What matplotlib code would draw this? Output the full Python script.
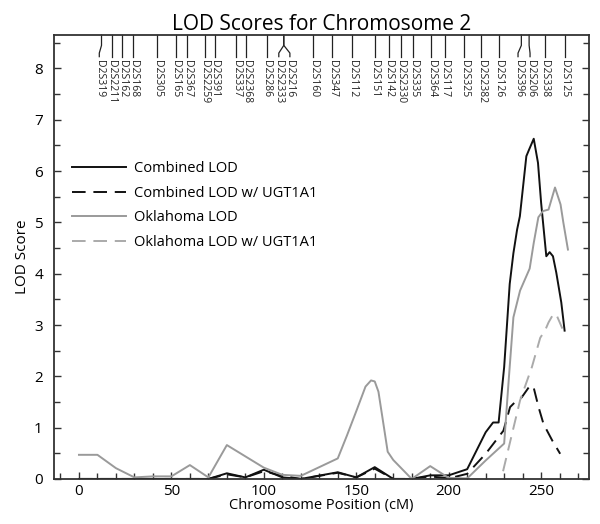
import matplotlib
matplotlib.use("Agg")
import matplotlib.pyplot as plt
from matplotlib.ticker import MultipleLocator

plt.rcParams['font.family'] = ['Open Sans', 'DejaVu Sans']

# LOD curves (position in cM, LOD score)
combined_x = [0, 70, 80, 90, 100, 110, 120, 140, 150, 160, 170, 180, 190, 200, 210,
              220, 224, 227, 230, 233, 235, 237, 238.5, 242, 243.5, 246, 248.3, 250,
              251.4, 252.8, 254.6, 256.4, 258.2, 260.9, 262.7]
combined_y = [0, 0, 0.11, 0.03, 0.18, 0.03, 0, 0.13, 0.03, 0.23, 0, 0, 0.07, 0.07, 0.19,
              0.91, 1.1, 1.1, 2.18, 3.8, 4.4, 4.86, 5.12, 6.29, 6.42, 6.63, 6.16, 5.38,
              4.86, 4.34, 4.42, 4.34, 4.02, 3.44, 2.89]

combined_ugt_x = [0, 70, 80, 90, 100, 110, 120, 140, 150, 160, 170, 180, 190, 200, 210,
                  220, 229.6, 233.2, 236.8, 239.5, 244, 245.9, 248.6, 251.3, 256, 260.3]
combined_ugt_y = [0, 0, 0.09, 0.03, 0.15, 0.06, 0, 0.12, 0.03, 0.2, 0, 0, 0.05, 0.01, 0.1,
                  0.49, 0.94, 1.4, 1.53, 1.59, 1.82, 1.79, 1.4, 1.07, 0.75, 0.49]

oklahoma_x = [0, 10, 20, 30, 40, 50, 60, 70, 80, 90, 100, 110, 120, 140, 145, 150, 155,
              158, 160, 162, 165, 167, 170, 180, 190, 200, 210, 220, 230, 232.3, 235,
              238.6, 243.8, 246, 248.5, 251, 254, 257.5, 260.5, 262, 264.5]
oklahoma_y = [0.47, 0.47, 0.21, 0.03, 0.05, 0.05, 0.27, 0.03, 0.66, 0.44, 0.22, 0.08,
              0.06, 0.40, 0.85, 1.32, 1.8, 1.92, 1.9, 1.7, 1.0, 0.53, 0.37, 0.0, 0.25,
              0.02, 0.01, 0.36, 0.69, 1.85, 3.15, 3.67, 4.1, 4.6, 5.1, 5.22, 5.25, 5.68,
              5.35, 5.0, 4.47]

oklahoma_ugt_x = [229.4, 238.6, 245, 249.5, 252.2, 254, 256.7, 258.5, 261.5]
oklahoma_ugt_y = [0.15, 1.53, 2.18, 2.75, 2.9, 3.05, 3.22, 3.18, 2.93]

# genetic markers: name, true position, label position (cM)
marker_names = ["D2S319", "D2S2211", "D2S162", "D2S168", "D2S305", "D2S165", "D2S367",
                "D2S2259", "D2S391", "D2S337", "D2S2368", "D2S286", "D2S2333", "D2S216",
                "D2S160", "D2S347", "D2S112", "D2S151", "D2S142", "D2S2330", "D2S335",
                "D2S364", "D2S117", "D2S325", "D2S2382", "D2S126", "D2S396", "D2S206",
                "D2S338", "D2S125"]
marker_pos = [12.2, 17.7, 23.4, 29.4, 42.3, 52.3, 58.5, 68.1, 73.5, 85.2, 90.6, 101.5,
              110.8, 110.8, 126.6, 137.0, 147.9, 160.0, 167.7, 174.1, 180.7, 190.6,
              197.8, 208.3, 217.7, 227.0, 239.3, 243.5, 251.9, 262.7]
marker_label = [11.0, 17.7, 23.4, 29.4, 42.3, 52.3, 58.5, 68.1, 73.5, 85.2, 90.6, 101.5,
                108.1, 114.1, 126.6, 137.0, 147.9, 160.0, 167.7, 174.1, 180.7, 190.6,
                197.8, 208.3, 217.7, 227.0, 237.5, 244.0, 251.9, 262.7]

fig = plt.figure(figsize=(6.0, 5.24), dpi=100)
ax = fig.add_axes([0.09, 0.086, 0.892, 0.847])

black = "#111111"
gray = "#9a9a9a"
ax.plot(combined_x, combined_y, color=black, lw=1.4, label="Combined LOD")
ax.plot(combined_ugt_x, combined_ugt_y, color=black, lw=1.4, dashes=(7, 4),
        label="Combined LOD w/ UGT1A1")
ax.plot(oklahoma_x, oklahoma_y, color=gray, lw=1.4, label="Oklahoma LOD")
ax.plot(oklahoma_ugt_x, oklahoma_ugt_y, color="#aaaaaa", lw=1.4, dashes=(7, 4),
        label="Oklahoma LOD w/ UGT1A1")

ymax = 8.65
ax.set_xlim(-13.5, 276)
ax.set_ylim(0, ymax)

for name, p, l in zip(marker_names, marker_pos, marker_label):
    ax.plot([p, p, l, l], [ymax, 8.45, 8.3, 8.23], color="#222222", lw=0.9,
            clip_on=False)
    ax.text(l, 8.17, name, rotation=270, ha="center", va="top", fontsize=7.5,
            color="#222222")

ax.xaxis.set_major_locator(MultipleLocator(50))
ax.xaxis.set_minor_locator(MultipleLocator(10))
ax.yaxis.set_major_locator(MultipleLocator(1))
ax.yaxis.set_minor_locator(MultipleLocator(0.5))
ax.tick_params(which="both", direction="in", top=False, right=True, labelsize=11,
               color="#333333")
ax.tick_params(which="major", length=5, width=1)
ax.tick_params(which="minor", length=4, width=1)
ax.tick_params(axis="x", pad=4)
ax.tick_params(axis="y", pad=8)
for s in ax.spines.values():
    s.set_linewidth(1.3)
    s.set_color("#333333")

ax.set_xlabel("Chromosome Position (cM)", fontsize=10.5, labelpad=-1)
ax.set_ylabel("LOD Score", fontsize=11, labelpad=3)
ax.set_title("LOD Scores for Chromosome 2", fontsize=15, pad=4)

ax.legend(loc="upper left", bbox_to_anchor=(0.01, 0.745), frameon=False, fontsize=10.5,
          handlelength=3.7, handletextpad=0.5, labelspacing=0.65)

fig.savefig("out.png", dpi=100)
